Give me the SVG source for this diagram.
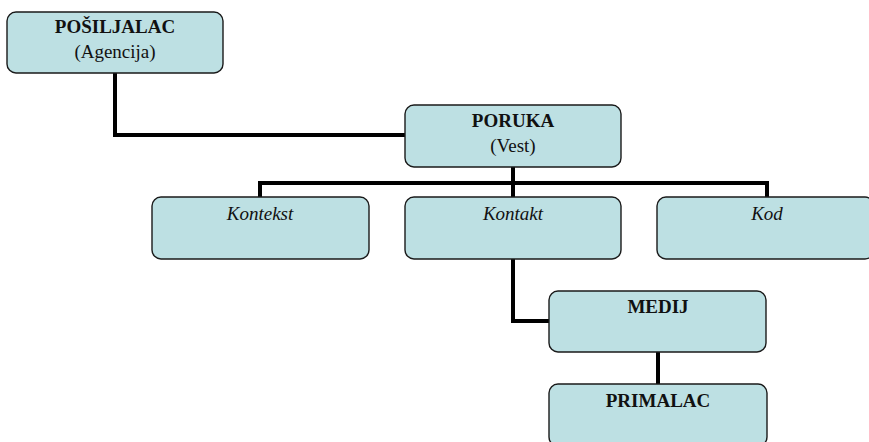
<svg xmlns="http://www.w3.org/2000/svg" width="869" height="442" viewBox="0 0 869 442">
  <style>
    .box { fill: #BDE0E3; stroke: #1a1a1a; stroke-width: 1.4; }
    .conn { fill: none; stroke: #000; stroke-width: 4; stroke-linejoin: miter; stroke-linecap: butt; }
    text { font-family: 'Liberation Serif', 'Times New Roman', Times, 'DejaVu Serif', serif; font-size: 19px; fill: #111; text-anchor: middle; }
    .b { font-weight: bold; }
    .i { font-style: italic; }
  </style>
  <rect width="869" height="442" fill="#fff"/>
  <g id="connectors">
    <path class="conn" d="M115,73 V135 H405"/>
    <path class="conn" d="M513,167 V197"/>
    <path class="conn" d="M260,197 V183 H767 V197"/>
    <path class="conn" d="M513,259 V321 H549"/>
    <path class="conn" d="M658,352 V384"/>
  </g>
  <g id="posiljalac">
    <rect class="box" x="7" y="12" width="216" height="61" rx="9"/>
    <text class="b" x="115" y="33" font-family="Liberation Serif, serif">POŠILJALAC</text>
    <text x="115" y="58" font-family="Liberation Serif, serif">(Agencija)</text>
  </g>
  <g id="poruka">
    <rect class="box" x="405" y="105" width="216" height="62" rx="9"/>
    <text class="b" x="513" y="127" font-family="Liberation Serif, serif">PORUKA</text>
    <text x="513" y="152" font-family="Liberation Serif, serif">(Vest)</text>
  </g>
  <g id="kontekst">
    <rect class="box" x="152" y="197" width="217" height="62" rx="9"/>
    <text class="i" x="260" y="220" font-family="Liberation Serif, serif">Kontekst</text>
  </g>
  <g id="kontakt">
    <rect class="box" x="405" y="197" width="216" height="62" rx="9"/>
    <text class="i" x="513" y="220" font-family="Liberation Serif, serif">Kontakt</text>
  </g>
  <g id="kod">
    <rect class="box" x="657" y="197" width="217" height="62" rx="9"/>
    <text class="i" x="767" y="220" font-family="Liberation Serif, serif">Kod</text>
  </g>
  <g id="medij">
    <rect class="box" x="549" y="291" width="217" height="61" rx="9"/>
    <text class="b" x="658" y="313" font-family="Liberation Serif, serif">MEDIJ</text>
  </g>
  <g id="primalac">
    <rect class="box" x="549" y="384" width="218" height="62" rx="9"/>
    <text class="b" x="658" y="407" font-family="Liberation Serif, serif">PRIMALAC</text>
  </g>
</svg>
